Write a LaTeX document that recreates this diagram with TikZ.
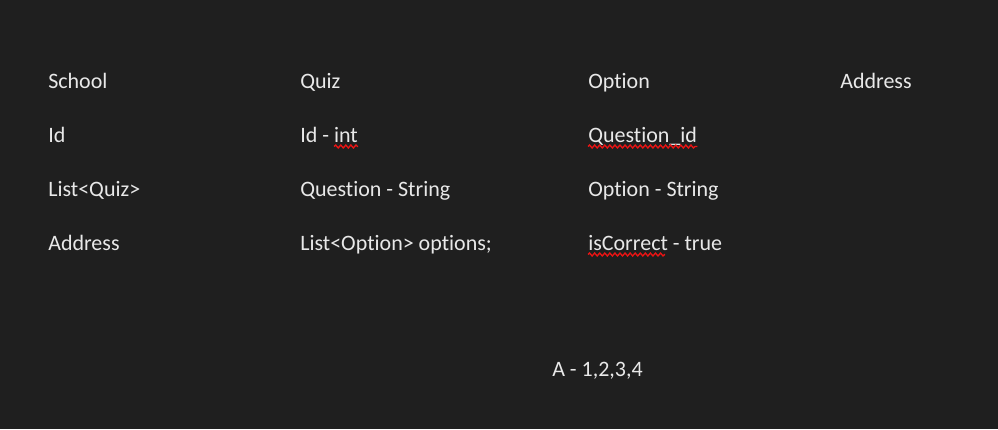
\documentclass[tikz,border=0pt]{standalone}
\usepackage{fontspec}
\setmainfont{Carlito}[Ligatures=NoCommon]
\usetikzlibrary{positioning,calc,decorations.pathmorphing}
\definecolor{PageDark}{RGB}{31,31,31}
\definecolor{InkLight}{RGB}{232,232,232}
\definecolor{SpellRed}{RGB}{235,20,20}

\begin{document}
\begin{tikzpicture}[x=0.75pt,y=-0.75pt,
    entry/.style={anchor=base west, inner sep=0pt, text=InkLight,
      font=\fontsize{16.5}{20}\selectfont},
    squiggle/.style={draw=SpellRed, line width=1pt, decorate,
      decoration={snake, amplitude=1.1pt, segment length=3.8pt}}]
    \fill[PageDark] (0,0) rectangle (998,429);
    \useasboundingbox (0,0) rectangle (998,429);
    % column headers
    \foreach \name/\x/\txt in {school/48/School, quiz/300/Quiz, option/588/Option, address/840/Address}
      \node[entry] (\name) at (\x,88.5) {\txt};
    % fields
    \node[entry] (schoolid) at (48,142) {Id};
    \node[entry] (schoollist) at (48,196) {List<Quiz>};
    \node[entry] (schooladdr) at (48,250) {Address};
    \node[entry] (quizid) at (300,142) {Id - int};
    \node[entry] (quizques) at (300,196) {Question - String};
    \node[entry] (quizopts) at (300,250) {List<Option> options;};
    \node[entry] (optques) at (588,142) {Question\_id};
    \node[entry] (opttext) at (588,196) {Option - String};
    \node[entry] (optcorrect) at (588,250) {isCorrect - true};
    \node[entry] (answer) at (552,376.5) {A - 1,2,3,4};
    % spell check marks
    \draw[squiggle] ($(quizid.base east)+(-24,4.5)$) -- ($(quizid.base east)+(0,4.5)$);
    \draw[squiggle] ($(optques.base west)+(0,4.5)$) -- ($(optques.base east)+(0,4.5)$);
    \draw[squiggle] ($(optcorrect.base west)+(0,4.5)$) -- ($(optcorrect.base west)+(77,4.5)$);
  \end{tikzpicture}
\end{document}
